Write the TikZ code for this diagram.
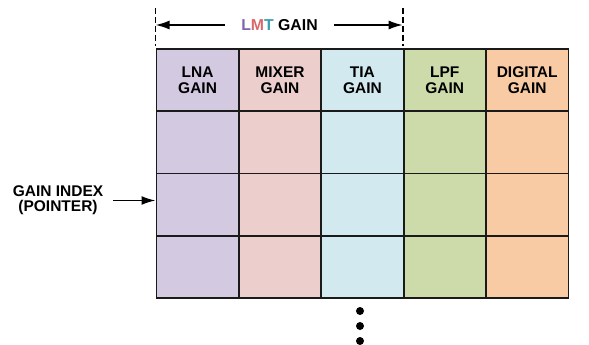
\documentclass[tikz,border=0pt]{standalone}
\usepackage{fontspec}
\setmainfont{Liberation Sans}
\usetikzlibrary{arrows.meta}
\definecolor{clna}{HTML}{D3C9E1}
\definecolor{cmix}{HTML}{ECCFCD}
\definecolor{ctia}{HTML}{D2E9EF}
\definecolor{clpf}{HTML}{CDDBAA}
\definecolor{cdig}{HTML}{F9CBA5}
\definecolor{cL}{HTML}{7B68AC}
\definecolor{cM}{HTML}{D8676B}
\definecolor{cT}{HTML}{3A9DAC}
\definecolor{gridc}{HTML}{1A1A1A}
\tikzset{
  cellbox/.style={draw=gridc, line width=1.8pt, minimum width=82.4pt, minimum height=62.25pt, inner sep=0pt, anchor=north west, align=center, font=\fontsize{15.5}{15.5}\selectfont\bfseries},
  dimline/.style={line width=1.6pt, dash pattern=on 6pt off 3pt},
  arr/.style={line width=1.7pt, -{Latex[length=14pt,width=9pt]}},
  dotc/.style={circle, fill=black, inner sep=0pt, minimum size=8pt}
}
\begin{document}
\begin{tikzpicture}[x=1pt,y=-1pt]
\useasboundingbox (0,0) rectangle (589,345);
% header row
\node[cellbox, fill=clna] (h1) at (155.5,48) {LNA\\GAIN};
\node[cellbox, fill=cmix] (h2) at (237.9,48) {MIXER\\GAIN};
\node[cellbox, fill=ctia] (h3) at (320.3,48) {TIA\\GAIN};
\node[cellbox, fill=clpf] (h4) at (402.7,48) {LPF\\GAIN};
\node[cellbox, fill=cdig] (h5) at (485.1,48) {DIGITAL\\GAIN};
% body rows
\foreach \r/\y in {1/110.25,2/172.5,3/234.75}{
  \node[cellbox, fill=clna] (c\r-1) at (155.5,\y) {};
  \node[cellbox, fill=cmix] (c\r-2) at (237.9,\y) {};
  \node[cellbox, fill=ctia] (c\r-3) at (320.3,\y) {};
  \node[cellbox, fill=clpf] (c\r-4) at (402.7,\y) {};
  \node[cellbox, fill=cdig] (c\r-5) at (485.1,\y) {};
}
% LMT gain dimension
\coordinate (dl1) at (155.5,8);
\coordinate (dl2) at (155.5,46);
\coordinate (dr1) at (402.7,8);
\coordinate (dr2) at (402.7,46);
\draw[dimline] (dl1) -- (dl2);
\draw[dimline] (dr1) -- (dr2);
\node[font=\fontsize{15.8}{15.8}\selectfont\bfseries] (lmt) at (279.5,25) {\textcolor{cL}{L}\textcolor{cM}{M}\textcolor{cT}{T} GAIN};
\coordinate (la) at (155.5,25);
\coordinate (ra) at (402.7,25);
\draw[arr] (lmt.west) ++(-13,0) -- (la);
\draw[arr] (lmt.east) ++(13,0) -- (ra);
% gain index pointer
\node[font=\fontsize{15.5}{15.5}\selectfont\bfseries, align=center] (gi) at (58,200) {GAIN INDEX\\(POINTER)};
\coordinate (gs) at (113,200.5);
\coordinate (ge) at (155.5,200.5);
\draw[arr] (gs) -- (ge);
% dots
\node[dotc] (d1) at (360,311) {};
\node[dotc] (d2) at (360,326) {};
\node[dotc] (d3) at (360,341) {};
\end{tikzpicture}
\end{document}
